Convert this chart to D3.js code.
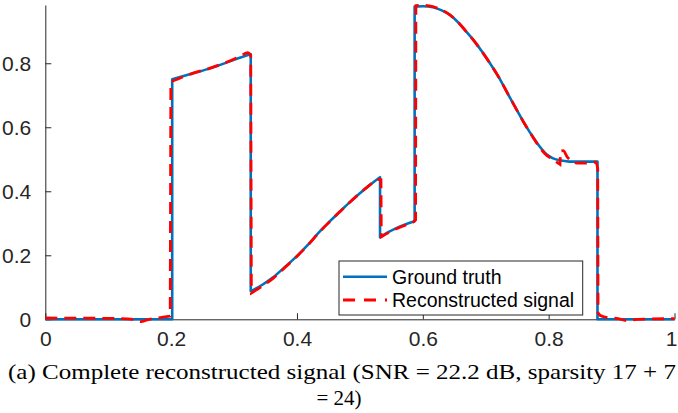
<!DOCTYPE html>
<html>
<head>
<meta charset="utf-8">
<script src="https://cdn.jsdelivr.net/npm/d3@7"></script>
<style>
  html, body { margin: 0; padding: 0; background: #fff; }
  svg { display: block; }
</style>
</head>
<body>
<svg id="chart" width="678" height="413"></svg>
<script>
// ---------------- data ----------------
const xTicks = [0, 0.2, 0.4, 0.6, 0.8, 1];
const xTickLabels = ["0", "0.2", "0.4", "0.6", "0.8", "1"];
const yTicks = [0, 0.2, 0.4, 0.6, 0.8];
const yTickLabels = ["0", "0.2", "0.4", "0.6", "0.8"];
const seriesNames = ["Ground truth", "Reconstructed signal"];
const captionLines = [
  "(a) Complete reconstructed signal (SNR = 22.2 dB, sparsity 17 + 7",
  "= 24)"
];

// Ground truth (x, y); repeated x values mark jumps
const gtX = [0, 0.2017, 0.2017, 0.235, 0.262, 0.288, 0.315, 0.3265,
  0.3265, 0.345, 0.362, 0.38, 0.399, 0.418, 0.436, 0.452, 0.468, 0.484, 0.5, 0.516, 0.532,
  0.532, 0.545, 0.558, 0.572, 0.587,
  0.587, 0.6, 0.616, 0.63, 0.643, 0.656, 0.669, 0.683, 0.696, 0.709, 0.722, 0.735, 0.749,
  0.762, 0.775, 0.786, 0.797, 0.807, 0.82, 0.833, 0.8776,
  0.8776, 1];
const gtY = [0, 0, 0.75, 0.769, 0.784, 0.802, 0.821, 0.828,
  0.088, 0.108, 0.131, 0.162, 0.196, 0.234, 0.274, 0.306, 0.336, 0.366, 0.394, 0.42, 0.444,
  0.256, 0.272, 0.285, 0.296, 0.306,
  0.977, 0.978, 0.975, 0.965, 0.951, 0.928, 0.899, 0.866, 0.831, 0.793, 0.752, 0.705, 0.655,
  0.61, 0.57, 0.539, 0.515, 0.503, 0.496, 0.4925, 0.4925,
  0, 0];

// Reconstructed signal (x, y)
const recX = [0, 0.1, 0.14, 0.153, 0.165, 0.185, 0.1985,
  0.1995, 0.235, 0.262, 0.288, 0.31, 0.322, 0.3265,
  0.3275, 0.345, 0.362, 0.38, 0.399, 0.418, 0.436, 0.452, 0.468, 0.484, 0.5, 0.516, 0.527, 0.5335,
  0.534, 0.545, 0.558, 0.572, 0.585, 0.5885,
  0.589, 0.5926, 0.6, 0.616, 0.63, 0.643, 0.656, 0.669, 0.683, 0.696, 0.709, 0.722, 0.735, 0.749,
  0.762, 0.775, 0.786, 0.797, 0.805, 0.812, 0.818,
  0.819, 0.823, 0.83, 0.837, 0.845, 0.86, 0.875, 0.878,
  0.8785, 0.882, 0.89, 0.91, 0.925, 0.94, 1];
const recY = [0.004, 0.003, 0.0, -0.007, 0.0, 0.006, 0.01,
  0.742, 0.769, 0.785, 0.803, 0.822, 0.833, 0.826,
  0.082, 0.104, 0.128, 0.16, 0.195, 0.233, 0.273, 0.305, 0.336, 0.366, 0.394, 0.42, 0.437, 0.436,
  0.258, 0.27, 0.283, 0.294, 0.304, 0.31,
  0.98, 0.981, 0.981, 0.977, 0.966, 0.951, 0.928, 0.899, 0.866, 0.831, 0.793, 0.752, 0.705, 0.655,
  0.61, 0.569, 0.536, 0.512, 0.502, 0.492, 0.484,
  0.526, 0.527, 0.506, 0.494, 0.488, 0.488, 0.491, 0.47,
  0.02, 0.012, 0.007, 0.002, -0.004, 0.0, 0.002];

// ---------------- drawing ----------------
(function () {
const svg = d3.select("#chart");
const axisColor = "#262626";
const mLeft = 45.3, mRight = 674.5, mTop = 5, mBottom = 319.3;

const x = d3.scaleLinear().domain([0, 1]).range([mLeft, mRight]);
const y = d3.scaleLinear().domain([0, 0.982]).range([mBottom, mTop]);

// axes (MATLAB style: inward ticks, no box)
const xAxis = d3.axisBottom(x).tickValues(xTicks).tickFormat((d, i) => xTickLabels[i])
  .tickSizeInner(-6).tickSizeOuter(0).tickPadding(12);
const yAxis = d3.axisLeft(y).tickValues(yTicks).tickFormat((d, i) => yTickLabels[i])
  .tickSizeInner(-6).tickSizeOuter(0).tickPadding(14);

const gx = svg.append("g").attr("transform", `translate(0,${mBottom})`).call(xAxis);
const gy = svg.append("g").attr("transform", `translate(${mLeft},0)`).call(yAxis);
[gx, gy].forEach(g => {
  g.select(".domain").attr("stroke", axisColor).attr("stroke-width", 1);
  g.selectAll(".tick line").attr("stroke", axisColor).attr("stroke-width", 1);
  g.selectAll(".tick text").attr("fill", axisColor)
    .style("font-family", "'Liberation Sans', Arial, sans-serif").style("font-size", "21px");
});
gx.selectAll(".tick text").attr("dy", "0.71em");
gy.selectAll(".tick text").attr("dy", "0.36em");
// keep the last x label ("1") inside the page edge
gx.selectAll(".tick text").filter((d) => d === 1)
  .attr("text-anchor", "end").attr("x", 677 - mRight);

// piecewise path: split where x repeats, smooth each piece
function piecewisePath(xs, ys) {
  const pts = xs.map((v, i) => [x(v), y(ys[i])]);
  const segs = [];
  let cur = [pts[0]];
  for (let i = 1; i < pts.length; i++) {
    if (xs[i] - xs[i - 1] < 0.0012) { segs.push(cur); cur = [pts[i]]; }
    else cur.push(pts[i]);
  }
  segs.push(cur);
  const line = d3.line().curve(d3.curveMonotoneX);
  return segs.map((s, k) => {
    const d = s.length > 1 ? line(s) : `M${s[0][0]},${s[0][1]}`;
    return k === 0 ? d : "L" + d.slice(1);
  }).join("");
}

const plot = svg.append("g");
plot.append("path")
  .attr("d", piecewisePath(gtX, gtY))
  .attr("fill", "none").attr("stroke", "#0072BD").attr("stroke-width", 2.6)
  .attr("stroke-linejoin", "round");
plot.append("path")
  .attr("d", piecewisePath(recX, recY))
  .attr("fill", "none").attr("stroke", "#FF0000").attr("stroke-width", 2.8)
  .attr("stroke-dasharray", "12,7");

// legend
const lg = svg.append("g");
lg.append("rect").attr("x", 339).attr("y", 261).attr("width", 243.7).attr("height", 54)
  .attr("fill", "#fff").attr("stroke", axisColor).attr("stroke-width", 1);
const legendStyles = [
  { color: "#0072BD", dash: null, w: 2.6 },
  { color: "#FF0000", dash: "12,9", w: 2.8 }
];
const legendRowY = [276.7, 300];
seriesNames.forEach((name, i) => {
  lg.append("line").attr("x1", 343).attr("x2", 387)
    .attr("y1", legendRowY[i]).attr("y2", legendRowY[i])
    .attr("stroke", legendStyles[i].color).attr("stroke-width", legendStyles[i].w)
    .attr("stroke-dasharray", legendStyles[i].dash);
  lg.append("text").attr("x", 392).attr("y", legendRowY[i] + 7)
    .attr("fill", "#000")
    .style("font-family", "'Liberation Sans', Arial, sans-serif").style("font-size", "19.5px")
    .text(name);
});

// caption
const cap = svg.append("g")
  .style("font-family", "'Liberation Serif', 'Times New Roman', serif")
  .style("font-size", "21px").attr("fill", "#000");
cap.append("text").attr("x", 8).attr("y", 379.3)
  .attr("textLength", 668).attr("lengthAdjust", "spacingAndGlyphs")
  .text(captionLines[0]);
cap.append("text").attr("x", 339).attr("y", 405).attr("text-anchor", "middle")
  .text(captionLines[1]);
})();
</script>
</body>
</html>
